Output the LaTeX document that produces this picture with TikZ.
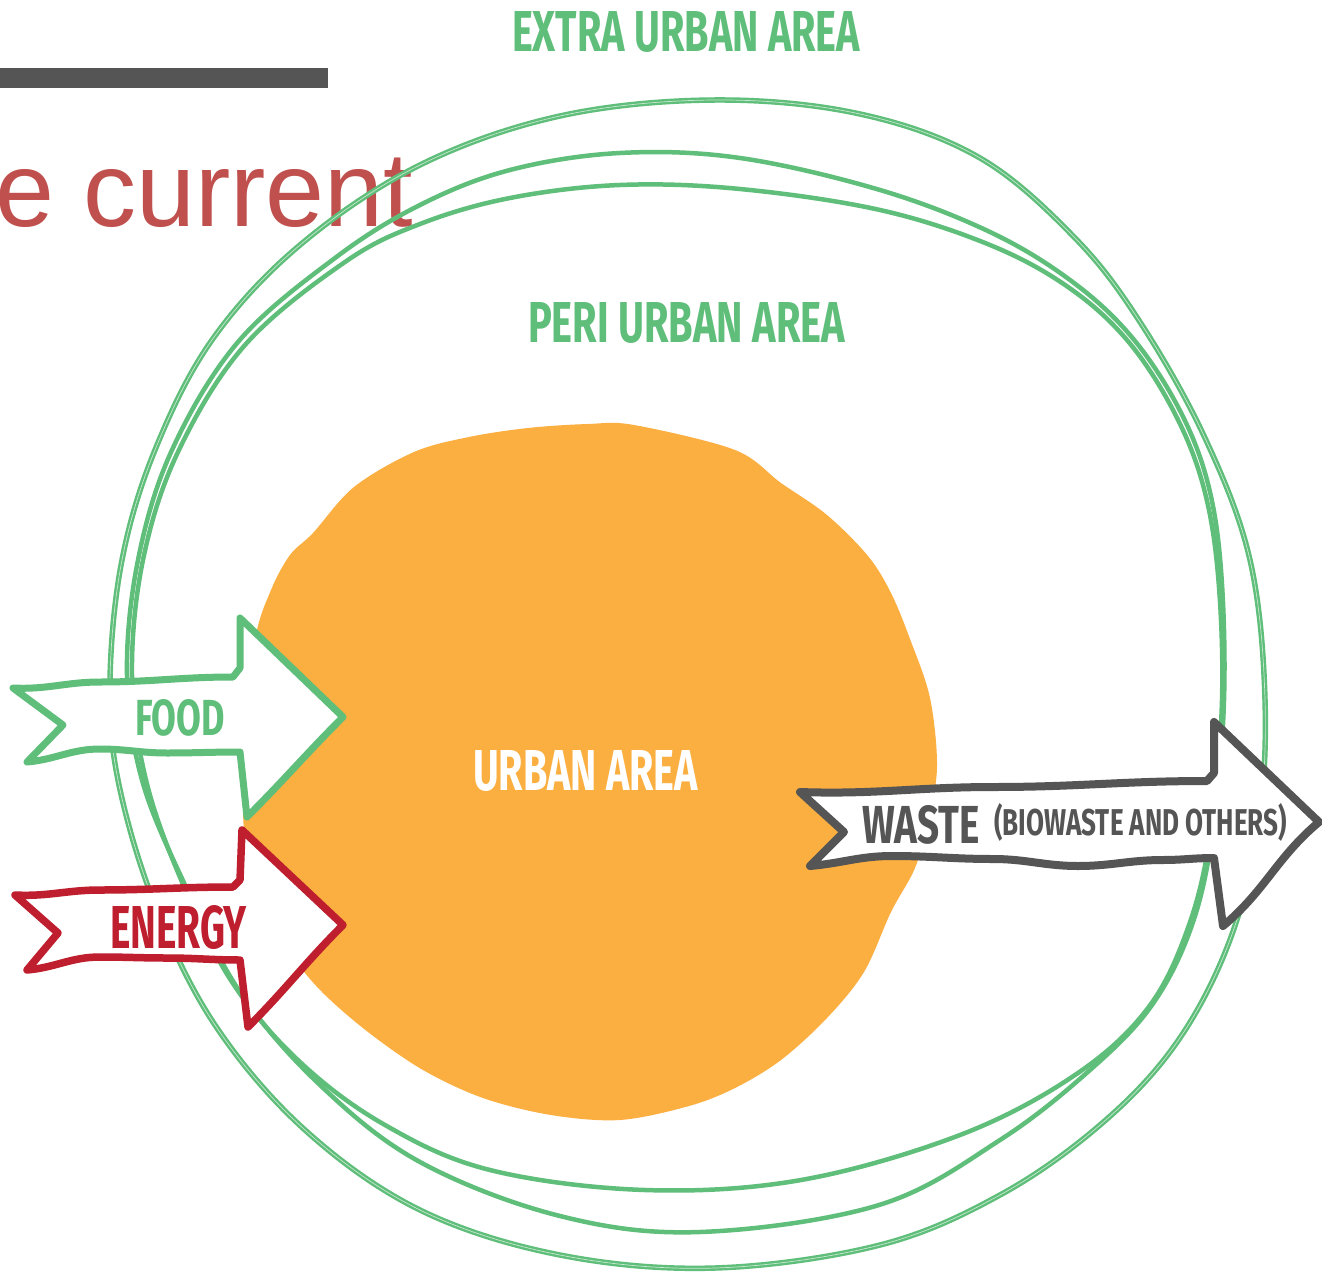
\documentclass[tikz,border=0pt]{standalone}
\usepackage{fontspec}
\usepackage{graphicx}
\setmainfont{Liberation Sans}
\newfontfamily\condf{Fira Sans}
\newcommand\lbl[3]{\resizebox{#1}{#2}{\condf\bfseries #3}}
\definecolor{lgreen}{RGB}{94,190,122}
\definecolor{orng}{RGB}{251,175,64}
\definecolor{rred}{RGB}{190,30,45}
\definecolor{dgray}{RGB}{85,85,85}
\definecolor{titlered}{RGB}{192,80,77}
\tikzset{
  loopline/.style={draw=lgreen, line width=4.5pt, line join=round},
  gapline/.style={draw=lgreen!35, line width=0.7pt},
  ribbon/.style={fill=white, line width=7pt, line join=round, line cap=round},
  txt/.style={inner sep=0pt, outer sep=0pt, anchor=base west},
}
\begin{document}
\begin{tikzpicture}[x=1pt,y=-1pt]
\useasboundingbox[fill=white] (0,0) rectangle (1322,1273);
% header
\fill[dgray] (0,68) rectangle (328,88);
\node[txt, text=titlered, font=\fontsize{106}{110}\selectfont] (title) at (-5,227) {e current};
% green loops
\draw[loopline, line width=5.5pt] plot[smooth cycle, tension=0.6] coordinates {
 (715,100) (860,114) (980,158) (1075,238) (1140,322) (1205,438) (1250,560) (1265,700)
 (1258,830) (1228,945) (1175,1045) (1100,1125) (1000,1195) (880,1245) (715,1268) (560,1255)
 (420,1210) (305,1130) (215,1025) (155,905) (118,780) (110,680) (122,560) (155,450)
 (212,340) (300,245) (420,165) (560,116)};
\draw[gapline] plot[smooth cycle, tension=0.6] coordinates {
 (715,100) (860,114) (980,158) (1075,238) (1140,322) (1205,438) (1250,560) (1265,700)
 (1258,830) (1228,945) (1175,1045) (1100,1125) (1000,1195) (880,1245) (715,1268) (560,1255)
 (420,1210) (305,1130) (215,1025) (155,905) (118,780) (110,680) (122,560) (155,450)
 (212,340) (300,245) (420,165) (560,116)};
\draw[loopline] plot[smooth cycle, tension=0.6] coordinates {
 (620,153) (740,158) (880,190) (990,232) (1070,280) (1130,335) (1177,405) (1207,480)
 (1221,570) (1224,700) (1213,830) (1192,925) (1152,1005) (1090,1070) (1000,1140) (879,1205)
 (700,1232) (560,1216) (420,1162) (320,1085) (240,992) (185,885) (142,780) (127,675)
 (138,560) (172,450) (238,342) (335,258) (420,205) (510,170)};
\draw[loopline] plot[smooth cycle, tension=0.6] coordinates {
 (620,185) (740,189) (880,210) (990,245) (1068,287) (1127,340) (1173,410) (1203,485)
 (1218,575) (1222,700) (1211,830) (1189,925) (1148,1008) (1075,1075) (960,1135)
 (801,1180) (645,1190) (490,1170) (385,1125) (300,1062) (232,982) (182,882)
 (146,780) (132,675) (143,560) (178,452) (245,345) (345,262) (420,224) (510,198)};
% orange urban blob
\fill[orng] plot[smooth cycle, tension=0.55] coordinates {
 (634,425) (735,450) (781,483) (827,515) (868,556) (891,593) (910,639) (930,698)
 (937,767) (928,822) (915,868) (891,912) (864,972) (827,1018) (781,1060) (735,1088)
 (689,1106) (620,1120) (551,1115) (483,1098) (423,1070) (368,1032) (322,992) (292,955)
 (262,900) (244,830) (246,740) (255,640) (271,590) (290,555) (313,533) (354,487)
 (414,452) (469,437) (528,428) (588,424)};
% arrows
\draw[ribbon, draw=lgreen] (13,688) to[out=-3,in=180] (100,682) to[out=0,in=180] (233,677)
  -- (240,668) -- (240,618) -- (343,717) to[out=225,in=45] (247,817) -- (240,752)
  to[out=180,in=0] (167,753) to[out=180,in=0] (100,749) to[out=180,in=5] (27,762)
  -- (63,725) -- cycle;
\draw[ribbon, draw=rred, line width=7.5pt] (15,895) to[out=-3,in=180] (100,890) to[out=0,in=180] (233,887)
  -- (240,880) -- (242,830) -- (343,925) to[out=225,in=45] (248,1027) -- (240,960)
  to[out=180,in=0] (167,958) to[out=180,in=0] (100,957) to[out=180,in=5] (27,970)
  -- (58,933) -- cycle;
\draw[ribbon, draw=dgray, line width=8pt] (800,792) to[out=-2,in=180] (994,787) to[out=0,in=180] (1207,781)
  -- (1214,773) -- (1214,722) -- (1319,822) to[out=220,in=40] (1223,926) -- (1214,858)
  to[out=180,in=0] (1163,860) to[out=180,in=0] (1078,866) to[out=180,in=0] (993,859)
  to[out=180,in=0] (892,856) to[out=180,in=5] (810,866) -- (844,832) -- cycle;
% labels
\node[txt, text=lgreen] (extra) at (512,52) {\lbl{348pt}{40pt}{EXTRA URBAN AREA}};
\node[txt, text=lgreen] (peri) at (528,342) {\lbl{317pt}{40pt}{PERI URBAN AREA}};
\node[txt, text=white] (urban) at (473,790) {\lbl{225pt}{40pt}{URBAN AREA}};
\node[txt, text=lgreen] (food) at (135,735) {\lbl{90pt}{36pt}{FOOD}};
\node[txt, text=rred] (energy) at (110,948) {\lbl{137pt}{43pt}{ENERGY}};
\node[txt, text=dgray] (waste) at (862,843) {\lbl{118pt}{38pt}{WASTE}};
\node[inner sep=0pt, outer sep=0pt, anchor=south west, text=dgray] (bio) at (994,841)
  {\resizebox*{293pt}{38pt}{\condf\bfseries (BIOWASTE AND OTHERS)}};
\end{tikzpicture}
\end{document}
